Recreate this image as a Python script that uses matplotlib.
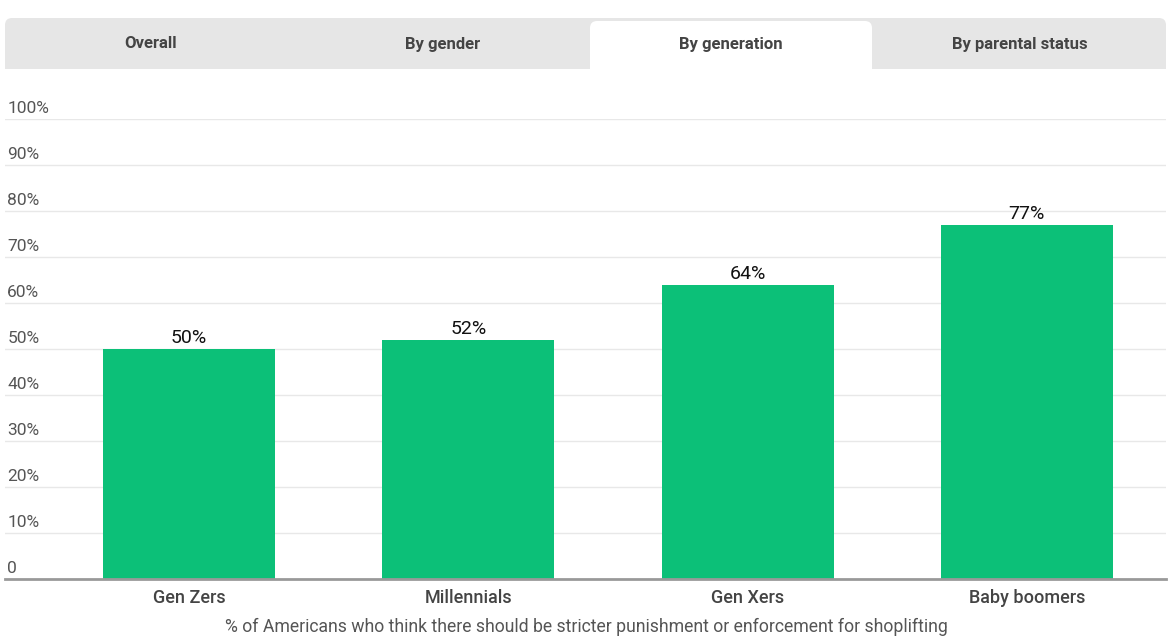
import matplotlib.pyplot as plt
from matplotlib.patches import Rectangle, FancyBboxPatch

plt.rcParams['font.family'] = ['Roboto', 'DejaVu Sans']

# Data
generations = ['Gen Zers', 'Millennials', 'Gen Xers', 'Baby boomers']
shares = [50, 52, 64, 77]
tabs = ['Overall', 'By gender', 'By generation', 'By parental status']
active_tab = 2
yticks = [0, 10, 20, 30, 40, 50, 60, 70, 80, 90, 100]
caption = '% of Americans who think there should be stricter punishment or enforcement for shoplifting'

W, H = 1176, 642
fig = plt.figure(figsize=(W/100, H/100), dpi=100)

# Tab bar (pixel coords -> figure fraction)
def fx(px): return px/W
def fy(py): return 1 - py/H

tab_left, tab_right, tab_top, tab_bot = 5, 1166, 18, 69
fig.patches.append(FancyBboxPatch((fx(tab_left), fy(tab_bot)), fx(tab_right-tab_left), (tab_bot-tab_top)/H,
                                  boxstyle='round,pad=0,rounding_size=0.006', transform=fig.transFigure,
                                  facecolor='#e6e6e6', edgecolor='none', mutation_aspect=W/H))
fig.patches.append(Rectangle((fx(tab_left), fy(tab_bot)), fx(tab_right-tab_left), 8/H,
                             transform=fig.transFigure, facecolor='#e6e6e6', edgecolor='none'))
tab_edges = [5, 296, 589, 873, 1166]
for i, name in enumerate(tabs):
    x0, x1 = tab_edges[i], tab_edges[i+1]
    if i == active_tab:
        fig.patches.append(FancyBboxPatch((fx(x0+1), fy(tab_bot+4)), fx(x1-x0-2), (tab_bot+4-21)/H,
                                          boxstyle='round,pad=0,rounding_size=0.006', transform=fig.transFigure,
                                          facecolor='white', edgecolor='none', mutation_aspect=W/H))
        fig.patches.append(Rectangle((fx(x0+1), fy(tab_bot+4)), fx(x1-x0-2), 10/H,
                                     transform=fig.transFigure, facecolor='white', edgecolor='none'))
    fig.text(fx((x0+x1)/2), fy(44), name, ha='center', va='center', fontsize=12,
             fontweight='bold', color='#444444')

# Chart
base_y, top_y = 579, 119
ax = fig.add_axes([fx(5), fy(base_y), fx(1161), (base_y-top_y)/H])
x = list(range(len(generations)))
ax.bar(x, shares, width=0.616, color='#0cc078', zorder=2)
for xi, v in zip(x, shares):
    ax.text(xi, v + 0.4, f'{v}%', ha='center', va='bottom', fontsize=14, color='#111111')

ax.set_xlim(-0.659, 3.498)
ax.set_ylim(0, 100)
for t in yticks:
    if t > 0:
        ax.axhline(t, color='#e8e8e8', lw=1, zorder=1)
    ax.text(0.002, t + 0.6, '0' if t == 0 else f'{t}%', transform=ax.get_yaxis_transform(),
            ha='left', va='bottom', fontsize=12.5, color='#555555')
ax.set_yticks([])
ax.set_xticks(x)
ax.set_xticklabels(generations, fontsize=13, color='#444444', fontweight='medium')
ax.tick_params(axis='x', length=0, pad=7)
for s in ['top', 'right', 'left']:
    ax.spines[s].set_visible(False)
ax.spines['bottom'].set_color('#999999')
ax.spines['bottom'].set_linewidth(2)
ax.spines['bottom'].set_zorder(3)

fig.text(fx(586), fy(627), caption, ha='center', va='center', fontsize=12.7, color='#555555')

fig.savefig('out.png', dpi=100, facecolor='white')
